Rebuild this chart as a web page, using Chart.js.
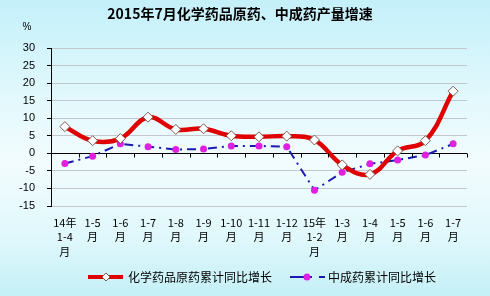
<!DOCTYPE html>
<html>
<head>
<meta charset="utf-8">
<script src="https://cdn.jsdelivr.net/npm/chart.js@4/dist/chart.umd.min.js"></script>
<style>
  html, body { margin: 0; padding: 0; }
  body {
    width: 490px; height: 296px; overflow: hidden;
    background: linear-gradient(to bottom, #c4f0fa 0%, #e4f9fd 35%, #f2fcfe 55%, #e0f8fc 80%, #c4f0f6 100%);
  }
  #wrap { position: relative; width: 490px; height: 296px; }
  canvas { display: block; }
</style>
</head>
<body>
<div id="wrap"><canvas id="grafico" width="490" height="296"></canvas></div>
<script>
const categorias = [
  ['14年', '1-4', '月'], ['1-5', '月'], ['1-6', '月'], ['1-7', '月'], ['1-8', '月'],
  ['1-9', '月'], ['1-10', '月'], ['1-11', '月'], ['1-12', '月'], ['15年', '1-2', '月'],
  ['1-3', '月'], ['1-4', '月'], ['1-5', '月'], ['1-6', '月'], ['1-7', '月']
];
const serieQuimico = [7.6, 3.6, 4.2, 10.3, 6.8, 7.0, 5.0, 4.7, 4.9, 3.8, -3.3, -6.0, 0.7, 3.6, 17.7];
const serieChinesa = [-2.9, -0.8, 2.7, 1.9, 1.1, 1.2, 2.1, 2.1, 1.9, -10.5, -5.4, -3.0, -1.9, -0.5, 2.7];
const nomesSeries = ['化学药品原药累计同比增长', '中成药累计同比增长'];
const titulo = '2015年7月化学药品原药、中成药产量增速';
const eixoY = { min: -15, max: 30, passo: 5 };

const fonteCJK = '"Noto Sans CJK SC", "Noto Sans", sans-serif';

// título, unidade, marcas do eixo zero e legenda
const extras = {
  id: 'extras',
  afterDraw(chart) {
    const ctx = chart.ctx;
    const x = chart.scales.x, y = chart.scales.y;
    ctx.save();
    ctx.fillStyle = '#000';
    ctx.textAlign = 'center';
    ctx.textBaseline = 'middle';
    ctx.font = 'bold 14px ' + fonteCJK;
    ctx.fillText(titulo, 240, 14);
    ctx.font = '10px "Liberation Sans", Arial, sans-serif';
    ctx.fillText('%', 27, 27);

    // marcas no eixo zero, entre as categorias
    const y0 = Math.round(y.getPixelForValue(0)) + 0.5;
    const passo = x.getPixelForValue(1) - x.getPixelForValue(0);
    ctx.strokeStyle = '#000';
    ctx.lineWidth = 1;
    ctx.beginPath();
    for (let i = 1; i <= categorias.length; i++) {
      const px = Math.round(x.getPixelForValue(i - 1) + passo / 2) + 0.5;
      ctx.moveTo(px, y0);
      ctx.lineTo(px, y0 + 4);
    }
    ctx.stroke();

    // legenda
    const ly = 277;
    ctx.lineCap = 'butt';
    ctx.strokeStyle = '#e00000';
    ctx.lineWidth = 4;
    ctx.beginPath(); ctx.moveTo(88, ly); ctx.lineTo(123, ly); ctx.stroke();
    ctx.beginPath();
    ctx.moveTo(106, ly - 4); ctx.lineTo(110, ly); ctx.lineTo(106, ly + 4); ctx.lineTo(102, ly); ctx.closePath();
    ctx.fillStyle = '#fff'; ctx.fill();
    ctx.lineWidth = 1; ctx.strokeStyle = '#7a5a50'; ctx.stroke();

    ctx.strokeStyle = '#1a1ab0';
    ctx.lineWidth = 2;
    ctx.beginPath(); ctx.moveTo(290, ly); ctx.lineTo(312, ly); ctx.stroke();
    ctx.beginPath(); ctx.moveTo(319, ly); ctx.lineTo(325, ly); ctx.stroke();
    ctx.beginPath(); ctx.arc(307, ly, 3.5, 0, Math.PI * 2);
    ctx.fillStyle = '#e020e0'; ctx.fill();

    ctx.fillStyle = '#000';
    ctx.textAlign = 'left';
    ctx.font = '12px ' + fonteCJK;
    ctx.fillText(nomesSeries[0], 128, ly);
    ctx.fillText(nomesSeries[1], 328, ly);
    ctx.restore();
  }
};

new Chart(document.getElementById('grafico'), {
  type: 'line',
  data: {
    labels: categorias,
    datasets: [
      {
        label: nomesSeries[0],
        data: serieQuimico,
        borderColor: '#e00000',
        borderWidth: 4.5,
        tension: 0.4,
        pointStyle: 'rectRot',
        pointRadius: 5,
        pointBackgroundColor: '#fff',
        pointBorderColor: '#7a5a50',
        pointBorderWidth: 1,
        order: 1
      },
      {
        label: nomesSeries[1],
        data: serieChinesa,
        borderColor: '#1a1ab0',
        borderWidth: 2,
        borderDash: [9, 5, 2, 5],
        tension: 0,
        pointStyle: 'circle',
        pointRadius: 3.5,
        pointBackgroundColor: '#e020e0',
        pointBorderColor: '#e020e0',
        pointBorderWidth: 0,
        order: 2
      }
    ]
  },
  options: {
    responsive: false,
    animation: false,
    layout: { padding: { top: 48, right: 23, bottom: 0, left: 0 } },
    plugins: { legend: { display: false }, title: { display: false }, tooltip: { enabled: false } },
    scales: {
      x: {
        offset: true,
        grid: { display: false },
        border: { display: false },
        afterFit: (s) => { s.height = 90; },
        ticks: {
          autoSkip: false, maxRotation: 0, padding: 1,
          color: '#000',
          font: { family: fonteCJK, size: 11, lineHeight: 1.35 }
        }
      },
      y: {
        min: eixoY.min, max: eixoY.max,
        afterFit: (s) => { s.width = 51; },
        border: { color: '#000', width: 1 },
        grid: {
          color: (c) => c.tick && c.tick.value === 0 ? '#000' : '#c4c8cc',
          tickColor: '#000',
          tickLength: 4
        },
        ticks: {
          stepSize: eixoY.passo, padding: 12, color: '#000',
          font: { family: '"Liberation Sans", Arial, sans-serif', size: 11 }
        }
      }
    }
  },
  plugins: [extras]
});
</script>
</body>
</html>
